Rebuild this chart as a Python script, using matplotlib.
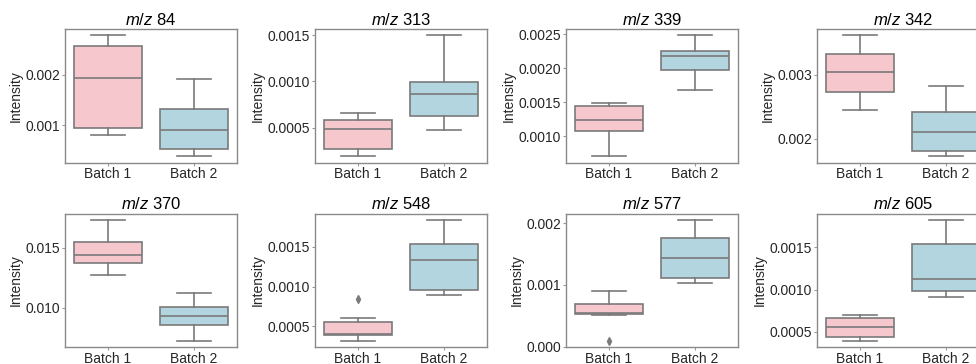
import matplotlib.pyplot as plt

plt.rcParams['font.family'] = ['Liberation Sans', 'DejaVu Sans']
plt.rcParams['mathtext.fontset'] = 'custom'
plt.rcParams['mathtext.rm'] = 'Liberation Sans'
plt.rcParams['mathtext.it'] = 'Liberation Sans:italic'

mz_values = [84, 313, 339, 342, 370, 548, 577, 605]
batches = ['Batch 1', 'Batch 2']

# (whislo, q1, median, q3, whishi) for every m/z
batch1_stats = [
    (0.00081, 0.00094, 0.00193, 0.00257, 0.00278),
    (0.00019, 0.00027, 0.00049, 0.00058, 0.00066),
    (0.00070, 0.00107, 0.00123, 0.00144, 0.00149),
    (0.00244, 0.00273, 0.00304, 0.00333, 0.00362),
    (0.01272, 0.01375, 0.01436, 0.01550, 0.01733),
    (0.000315, 0.000391, 0.000408, 0.000554, 0.000605),
    (0.000515, 0.000524, 0.000551, 0.000686, 0.000903),
    (0.000394, 0.000441, 0.000559, 0.000666, 0.000706),
]
batch2_stats = [
    (0.00038, 0.00053, 0.00091, 0.00132, 0.00192),
    (0.00048, 0.00063, 0.00086, 0.00099, 0.00150),
    (0.00168, 0.00197, 0.00218, 0.00226, 0.00249),
    (0.00172, 0.00181, 0.00210, 0.00241, 0.00282),
    (0.00722, 0.00853, 0.00930, 0.01003, 0.01122),
    (0.00089, 0.00096, 0.00133, 0.00154, 0.001845),
    (0.00103, 0.00112, 0.00143, 0.00176, 0.00206),
    (0.00091, 0.00098, 0.00113, 0.00154, 0.00183),
]
batch1_fliers = [[], [], [], [], [], [0.000845], [0.000091], []]
batch2_fliers = [[], [], [], [], [], [], [], []]

box_colors = ['#f7c7ce', '#b2d5df']
line_gray = '#7a7a7a'

W, H = 976, 364
fig = plt.figure(figsize=(W / 100, H / 100), dpi=100)

col_left = [65, 315, 566, 817]
row_top = [29, 213.5]
ax_w, ax_h = 172, 133.5


def summary(s, fliers, label):
    lo, q1, med, q3, hi = s
    return dict(whislo=lo, q1=q1, med=med, q3=q3, whishi=hi,
                fliers=fliers, label=label)


for i, mz in enumerate(mz_values):
    r, c = divmod(i, 4)
    left = col_left[c] / W
    bottom = 1 - (row_top[r] + ax_h) / H
    ax = fig.add_axes([left, bottom, ax_w / W, ax_h / H])

    stats = [summary(batch1_stats[i], batch1_fliers[i], batches[0]),
             summary(batch2_stats[i], batch2_fliers[i], batches[1])]
    bp = ax.bxp(stats, positions=[0, 1], widths=0.8, capwidths=0.4,
                patch_artist=True,
                boxprops=dict(edgecolor=line_gray, linewidth=1.2),
                medianprops=dict(color=line_gray, linewidth=1.2),
                whiskerprops=dict(color=line_gray, linewidth=1.2),
                capprops=dict(color=line_gray, linewidth=1.2),
                flierprops=dict(marker='d', markersize=4,
                                markerfacecolor=line_gray,
                                markeredgecolor=line_gray))
    for patch, col in zip(bp['boxes'], box_colors):
        patch.set_facecolor(col)

    ax.set_xlim(-0.5, 1.5)
    ax.set_xticks([0, 1], batches)
    ax.set_title(f'$m/z$ {mz}', fontsize=12, pad=3)
    ax.set_ylabel('Intensity', fontsize=10, labelpad=2, color='#262626')
    ax.tick_params(labelsize=10, length=2.5, width=0.8, pad=1,
                   color='#999999', labelcolor='#262626')
    for sp in ax.spines.values():
        sp.set_color('#8a8a8a')
        sp.set_linewidth(1)

fig.savefig('out.png', dpi=100)
